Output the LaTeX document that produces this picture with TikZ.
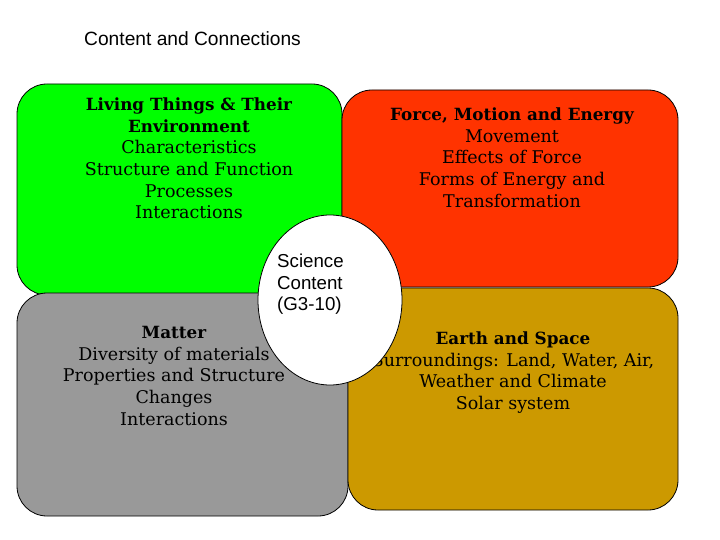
\documentclass[tikz,border=0pt]{standalone}
\usepackage{fontspec}
\setmainfont{DejaVu Serif}
\setsansfont{Liberation Sans}
\usetikzlibrary{shapes.geometric}
\definecolor{lifegreen}{HTML}{00FF00}
\definecolor{forcered}{HTML}{FF3300}
\definecolor{mattergray}{HTML}{999999}
\definecolor{earthgold}{HTML}{CC9900}
\newcommand{\areahead}[1]{{\fontsize{16.8}{21.7}\selectfont\bfseries #1}}
\begin{document}
\begin{tikzpicture}
[x=1pt, y=-1pt,
 area/.style={rectangle, draw=black, line width=0.8pt, rounded corners=30pt},
 areatext/.style={align=center, inner sep=0pt, anchor=north,
   font=\fontsize{17.5}{21.7}\selectfont},
 hub/.style={ellipse, draw=black, line width=0.8pt, fill=white,
   minimum width=144pt, minimum height=170pt}]
\useasboundingbox (0,0) rectangle (720,540);

\node [anchor=west, inner sep=0pt, font=\sffamily\fontsize{19.2}{22}\selectfont]
  (title) at (84,39) {Content and Connections};

% the four areas
\node [area, fill=lifegreen, minimum width=325pt, minimum height=211pt]
  (living) at (179.5,189.5) {};
\node [area, fill=forcered, minimum width=336pt, minimum height=197pt]
  (force) at (510,188.5) {};
\node [area, fill=mattergray, minimum width=331pt, minimum height=223pt]
  (matter) at (182.5,404.5) {};
\node [area, fill=earthgold, minimum width=330pt, minimum height=222pt]
  (earth) at (513,399) {};

\node [areatext] (livingtext) at (189,97.5)
  {\areahead{Living Things \&  Their}\\ \areahead{Environment}\\ Characteristics\\
   Structure and Function\\ Processes\\ Interactions};
\node [areatext] (forcetext) at (512,107.5)
  {\areahead{Force, Motion and Energy}\\ Movement\\ Effects of Force\\
   Forms of Energy and\\ Transformation};
\node [areatext] (mattertext) at (174,326)
  {\areahead{Matter}\\ Diversity of materials\\ Properties and Structure\\
   Changes\\ Interactions};
\node [areatext] (earthtext) at (513,331.5)
  {\areahead{Earth and Space}\\ Surroundings: Land, Water, Air,\\
   Weather and Climate\\ Solar system};

% centre
\node [hub] (science) at (330,300) {};
\node [anchor=north west, align=left, inner sep=0pt,
  font=\sffamily\fontsize{18.7}{21.5}\selectfont]
  (sciencetext) at (277,254) {Science\\ Content\\ (G3-10)};
\end{tikzpicture}
\end{document}
